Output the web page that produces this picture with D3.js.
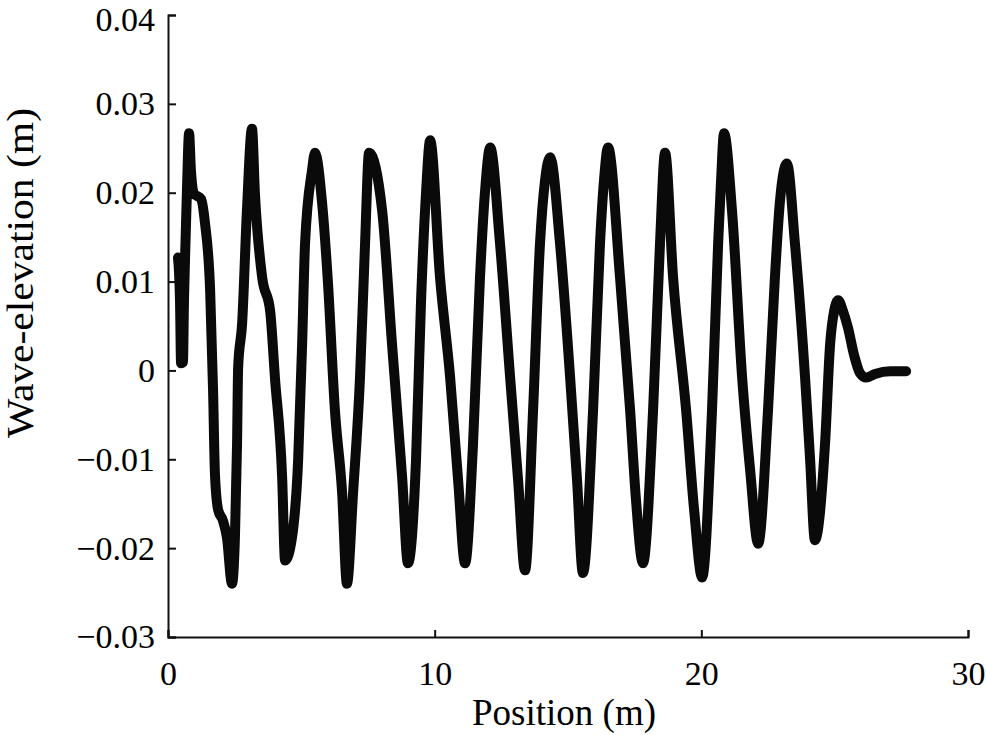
<!DOCTYPE html>
<html>
<head>
<meta charset="utf-8">
<script src="https://cdn.jsdelivr.net/npm/d3@7"></script>
<style>
	body { margin: 0; background: white; }
	svg text { font-family: "Liberation Serif", "DejaVu Serif", serif; fill: black; }
</style>
</head>
<body>
<div id="container"></div>
<script>
// position along the tank (m)
const positions = [
	0.375, 0.45, 0.49, 0.56, 0.60, 0.64, 0.71, 0.79, 0.86, 0.98, 1.24, 1.39, 1.58, 1.69, 1.76, 1.88, 2.06, 2.21,
	2.40, 2.51, 2.59, 2.63, 2.78, 2.96, 3.15, 3.26, 3.53, 3.83, 4.01, 4.28, 4.39, 4.65, 4.88, 5.03, 5.14, 5.40,
	5.51, 5.78, 6.00, 6.26, 6.53, 6.71, 6.94, 7.20, 7.39, 7.54, 8.03, 8.40, 8.78, 9.00, 9.30, 9.49, 9.68, 9.83,
	10.20, 10.58, 10.88, 11.14, 11.44, 11.70, 11.89, 12.08, 12.45, 12.83, 13.13, 13.39, 13.69, 13.95, 14.14, 14.33,
	14.70, 15.08, 15.34, 15.56, 15.94, 16.20, 16.35, 16.50, 16.95, 17.33, 17.55, 17.81, 18.19, 18.45, 18.64,
	18.94, 19.43, 19.73, 20.03, 20.40, 20.63, 20.74, 20.85, 21.15, 21.53, 21.83, 22.13, 22.50, 22.76, 22.95, 23.21,
	23.51, 23.89, 24.08, 24.26, 24.64, 24.83, 24.98, 25.13, 25.31, 25.50, 25.73, 25.95, 26.18, 26.51, 27.08, 27.68
];
// wave elevation (m)
const elevation = [
	0.0127, 0.0079, 0.0008, 0.0009, 0.0079, 0.0127, 0.0202, 0.0267, 0.0225, 0.0199, 0.0193, 0.0165, 0.0090, -0.0022, -0.0116, -0.0157, -0.0169, -0.0188,
	-0.0240, -0.0188, -0.0082, 0.0003, 0.0053, 0.0180, 0.0272, 0.0199, 0.0105, 0.0067, -0.0008, -0.0120, -0.0214, -0.0188, -0.0101, 0.0030, 0.0143, 0.0225,
	0.0245, 0.0188, 0.0098, -0.0045, -0.0138, -0.0240, -0.0138, -0.0008, 0.0143, 0.0245, 0.0180, 0.0030, -0.0120, -0.0217, -0.0101, 0.0079, 0.0202, 0.0259,
	0.0105, -0.0008, -0.0124, -0.0217, -0.0082, 0.0105, 0.0202, 0.0251, 0.0143, -0.0008, -0.0124, -0.0225, -0.0045, 0.0143, 0.0214, 0.0240,
	0.0143, -0.0008, -0.0124, -0.0228, -0.0045, 0.0143, 0.0214, 0.0251, 0.0105, -0.0045, -0.0146, -0.0217, -0.0045, 0.0143, 0.0245,
	0.0105, -0.0045, -0.0157, -0.0233, -0.0045, 0.0143, 0.0214, 0.0267, 0.0180, -0.0008, -0.0112, -0.0195, -0.0045, 0.0105, 0.0191, 0.0233,
	0.0143, -0.0008, -0.0101, -0.0191, -0.0082, 0.0030, 0.0067, 0.0079, 0.0067, 0.0048, 0.0017, -0.0003, -0.0008, -0.0004, -0.0001, -0.0001
];
const xTicks = [0, 10, 20, 30];
const yTicks = [-0.03, -0.02, -0.01, 0, 0.01, 0.02, 0.03, 0.04];

const W = 986, H = 735;
const LEFT = 168, RIGHT = 968, TOP = 15, BOTTOM = 637;

const svg = d3.select('#container').append('svg')
	.attr('width', W)
	.attr('height', H);

const x = d3.scaleLinear().domain([0, 30]).range([LEFT, RIGHT]);
const y = d3.scaleLinear().domain([-0.03, 0.04]).range([BOTTOM, TOP]);

const fmtY = d => d === 0 ? '0' : d3.format('.2f')(d);

const xAxis = svg.append('g')
	.attr('transform', `translate(0,${BOTTOM})`)
	.call(d3.axisBottom(x).tickValues(xTicks).tickSize(-7).tickPadding(24).tickFormat(d3.format('d')));
const yAxis = svg.append('g')
	.attr('transform', `translate(${LEFT},0)`)
	.call(d3.axisLeft(y).tickValues(yTicks).tickSize(-8).tickPadding(13).tickFormat(fmtY));

[xAxis, yAxis].forEach(g => {
	g.select('.domain').attr('stroke', '#111').attr('stroke-width', 2);
	g.selectAll('.tick line').attr('stroke', '#111').attr('stroke-width', 2);
	g.selectAll('.tick text')
		.style('font-family', '"Liberation Serif", serif')
		.style('font-size', '34px')
		.attr('fill', '#111');
});
xAxis.selectAll('.tick text').attr('dy', '0.71em');
// top label sits right at the page edge, nudge it so it stays inside
yAxis.selectAll('.tick text').filter(d => d === 0.04).attr('dy', '0.45em');

const data = positions.map((p, i) => ({x: p, y: elevation[i]}));
const line = d3.line()
	.x(d => x(d.x))
	.y(d => y(d.y))
	.curve(d3.curveMonotoneX);

svg.append('path')
	.datum(data)
	.attr('d', line)
	.attr('fill', 'none')
	.attr('stroke', '#0a0a0a')
	.attr('stroke-width', 10)
	.attr('stroke-linejoin', 'round')
	.attr('stroke-linecap', 'round');

svg.append('text')
	.attr('x', 564)
	.attr('y', 725)
	.attr('text-anchor', 'middle')
	.style('font-size', '37px')
	.text('Position (m)');

// the reference stretches this label a bit, so pin its length
svg.append('text')
	.attr('transform', `translate(33,273) rotate(-90)`)
	.attr('text-anchor', 'middle')
	.attr('textLength', 330)
	.attr('lengthAdjust', 'spacingAndGlyphs')
	.style('font-size', '37px')
	.text('Wave-elevation (m)');
</script>
</body>
</html>
